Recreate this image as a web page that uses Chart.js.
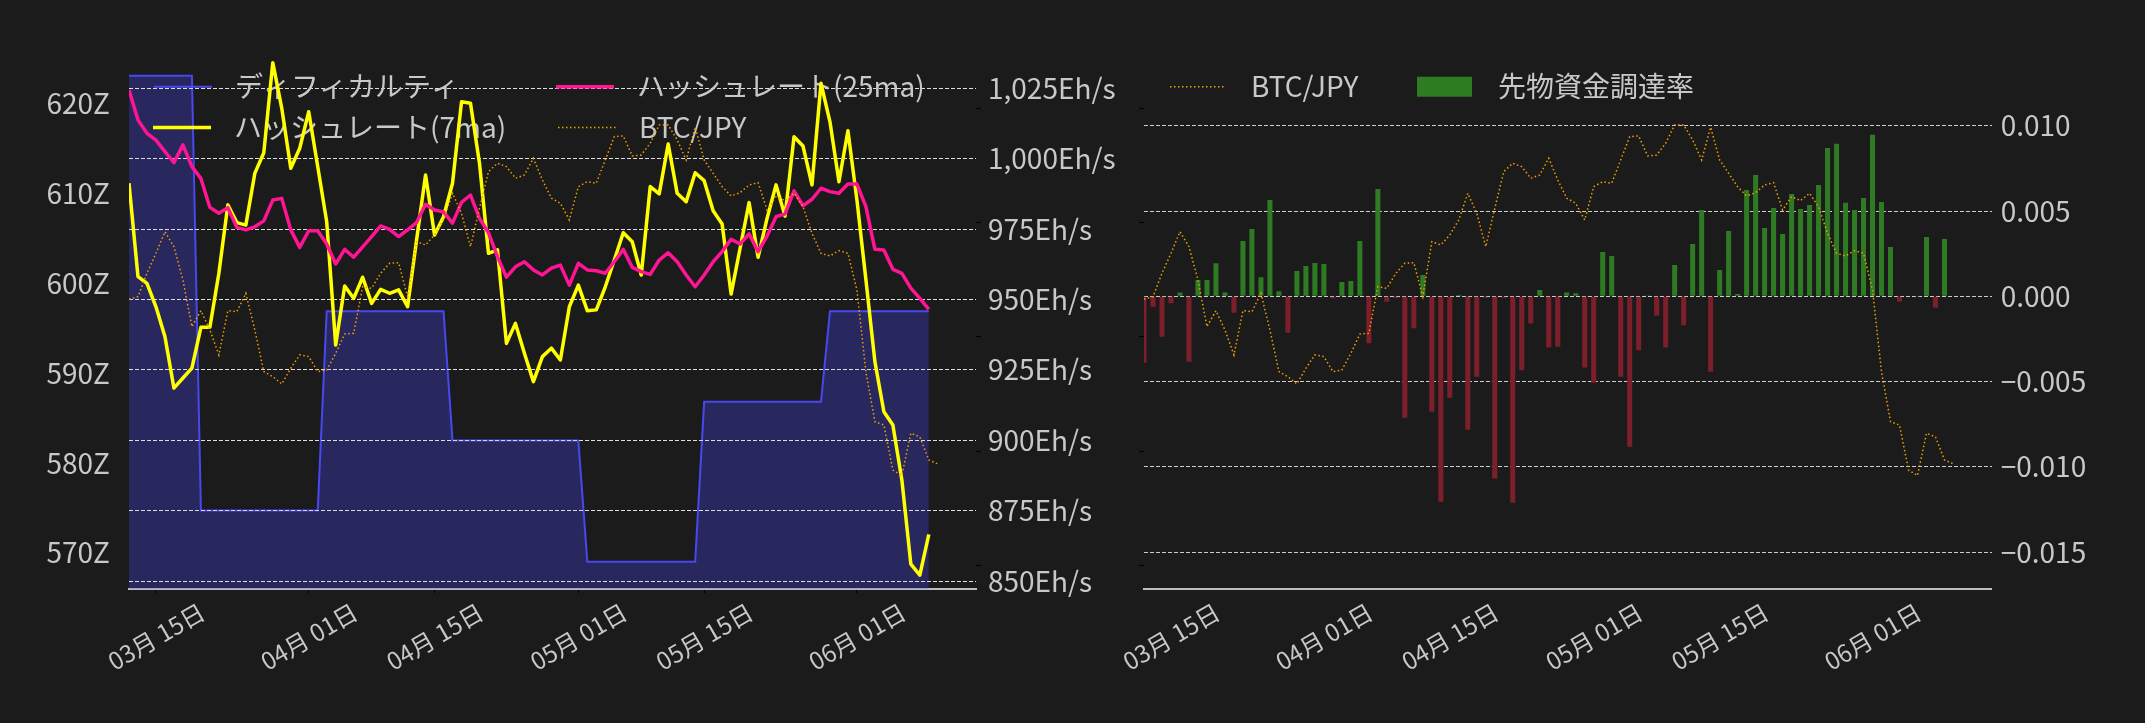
<!DOCTYPE html>
<html lang="ja">
<head>
<meta charset="utf-8">
<title>ハッシュレート / 先物資金調達率</title>
<script src="https://cdn.jsdelivr.net/npm/chart.js@4.4.1/dist/chart.umd.min.js"></script>
<style>
  html, body { margin: 0; padding: 0; background: #1b1b1b; }
  body { width: 2145px; height: 723px; position: relative; overflow: hidden; }
  canvas { position: absolute; top: 0; }
  #hashChart { left: 0; }
  #fundingChart { left: 1040px; }
</style>
</head>
<body>
<canvas id="hashChart" width="1130" height="723"></canvas>
<canvas id="fundingChart" width="1105" height="723"></canvas>
<script>
// 日付 (月-日)
const dates = [
  '03-12','03-13','03-14','03-15','03-16','03-17','03-18','03-19','03-20','03-21',
  '03-22','03-23','03-24','03-25','03-26','03-27','03-28','03-29','03-30','03-31',
  '04-01','04-02','04-03','04-04','04-05','04-06','04-07','04-08','04-09','04-10',
  '04-11','04-12','04-13','04-14','04-15','04-16','04-17','04-18','04-19','04-20',
  '04-21','04-22','04-23','04-24','04-25','04-26','04-27','04-28','04-29','04-30',
  '05-01','05-02','05-03','05-04','05-05','05-06','05-07','05-08','05-09','05-10',
  '05-11','05-12','05-13','05-14','05-15','05-16','05-17','05-18','05-19','05-20',
  '05-21','05-22','05-23','05-24','05-25','05-26','05-27','05-28','05-29','05-30',
  '05-31','06-01','06-02','06-03','06-04','06-05','06-06','06-07','06-08','06-09',
  '06-10'
];

// 目盛りを付ける日付
const tickDates = ['03-15', '04-01', '04-15', '05-01', '05-15', '06-01'];

// ディフィカルティ (Z)
const difficulty = [
  623.1, 623.1, 623.1, 623.1, 623.1, 623.1, 623.1, 623.1,
  574.7, 574.7, 574.7, 574.7, 574.7, 574.7, 574.7, 574.7, 574.7, 574.7, 574.7, 574.7, 574.7, 574.7,
  596.9, 596.9, 596.9, 596.9, 596.9, 596.9, 596.9, 596.9, 596.9, 596.9, 596.9, 596.9, 596.9, 596.9,
  582.5, 582.5, 582.5, 582.5, 582.5, 582.5, 582.5, 582.5, 582.5, 582.5, 582.5, 582.5, 582.5, 582.5, 582.5,
  569.0, 569.0, 569.0, 569.0, 569.0, 569.0, 569.0, 569.0, 569.0, 569.0, 569.0, 569.0, 569.0,
  586.8, 586.8, 586.8, 586.8, 586.8, 586.8, 586.8, 586.8, 586.8, 586.8, 586.8, 586.8, 586.8, 586.8,
  596.9, 596.9, 596.9, 596.9, 596.9, 596.9, 596.9, 596.9, 596.9, 596.9, 596.9, 596.9
];

// ハッシュレート 7日移動平均 (Eh/s)
const hashrate7 = [
  991.3, 958.1, 955.7, 947.4, 936.8, 918.5, 922.1, 925.6, 940.1, 940.1,
  959.3, 983.6, 977.3, 976.4, 994.8, 1002.1, 1034.1, 1017.9, 996.6, 1003.7,
  1016.7, 997.2, 977.6, 933.8, 954.8, 950.4, 957.9, 948.6, 953.6, 952.2,
  953.4, 947.4, 971.1, 994.2, 972.9, 979.4, 991.3, 1020.2, 1019.7, 998.4,
  966.4, 967.6, 934.4, 941.5, 930.9, 920.8, 929.7, 932.7, 928.5, 947.4,
  955.1, 946.0, 946.3, 954.5, 964.0, 973.7, 970.5, 958.7, 990.1, 987.5,
  1005.2, 987.7, 984.7, 995.0, 992.2, 981.5, 976.8, 951.9, 968.2, 984.4,
  965.0, 978.8, 990.7, 979.6, 1007.8, 1004.5, 990.7, 1026.8, 1013.1, 991.8,
  1009.9, 985.3, 957.0, 927.9, 910.1, 905.4, 885.9, 856.0, 852.1, 866.6
];

// ハッシュレート 25日移動平均 (Eh/s)
const hashrate25 = [
  1024.4, 1013.7, 1009.0, 1006.6, 1002.5, 998.6, 1004.9, 997.2, 993.0, 982.7,
  980.6, 982.6, 975.6, 974.7, 975.8, 977.9, 985.3, 985.9, 974.7, 968.5,
  974.4, 974.4, 969.7, 962.6, 967.8, 965.0, 968.7, 972.3, 976.1, 974.9,
  972.3, 974.7, 977.3, 983.8, 981.8, 981.1, 977.1, 984.5, 987.1, 978.8,
  973.7, 965.2, 957.9, 961.6, 963.4, 960.5, 958.7, 961.1, 962.2, 955.1,
  962.8, 960.5, 960.2, 959.3, 963.4, 967.8, 961.4, 959.9, 958.9, 964.0,
  966.6, 963.4, 958.7, 954.5, 958.7, 963.4, 967.0, 971.4, 969.7, 973.3,
  967.0, 972.5, 979.4, 980.4, 988.6, 983.3, 985.6, 989.5, 988.3, 987.7,
  991.0, 991.0, 983.0, 967.8, 967.6, 960.7, 959.3, 954.0, 950.4, 946.5
];

// BTC/JPY (万円)
const btcJpy = [
  1432.9, 1435.2, 1455.6, 1473.1, 1492.0, 1478.9, 1449.8, 1408.9, 1422.9, 1406.0,
  1384.2, 1422.9, 1422.0, 1438.1, 1406.0, 1369.6, 1365.2, 1358.8, 1372.5, 1384.2,
  1382.7, 1369.6, 1371.0, 1385.6, 1402.5, 1403.1, 1443.9, 1442.5, 1455.6, 1464.4,
  1464.9, 1435.2, 1483.3, 1480.4, 1489.2, 1502.3, 1525.6, 1508.1, 1478.9, 1512.5,
  1544.5, 1551.9, 1548.9, 1538.8, 1541.6, 1556.3, 1537.3, 1521.3, 1516.9, 1502.3,
  1531.4, 1535.8, 1534.4, 1554.8, 1575.2, 1575.8, 1558.3, 1559.1, 1569.4, 1585.4,
  1585.4, 1572.3, 1554.8, 1583.4, 1554.8, 1543.1, 1531.4, 1523.3, 1526.2, 1532.9,
  1534.9, 1511.0, 1522.7, 1519.2, 1525.6, 1513.9, 1490.6, 1473.1, 1470.8, 1475.4,
  1473.1, 1441.0, 1369.3, 1325.8, 1322.9, 1283.5, 1278.7, 1315.7, 1312.4, 1292.3,
  1288.8
];

// 先物資金調達率
const fundingRate = [
  -0.00390, -0.00061, -0.00237, -0.00041, 0.00023, -0.00384, 0.00096, 0.00096, 0.00194, 0.00023,
  -0.00096, 0.00325, 0.00395, 0.00111, 0.00565, 0.00029, -0.00214, 0.00148, 0.00178, 0.00195,
  0.00190, -0.00012, 0.00084, 0.00090, 0.00325, -0.00276, 0.00630, -0.00032, -0.00010, -0.00712,
  -0.00188, 0.00125, -0.00677, -0.01205, -0.00595, 0.00008, -0.00783, -0.00472, -0.00008, -0.01068,
  -0.00008, -0.01211, -0.00433, -0.00159, 0.00037, -0.00300, -0.00296, 0.00023, 0.00018, -0.00417,
  -0.00507, 0.00260, 0.00237, -0.00472, -0.00883, -0.00317, 0.00002, -0.00114, -0.00300, 0.00184,
  -0.00170, 0.00307, 0.00506, -0.00442, 0.00154, 0.00383, 0.00014, 0.00624, 0.00712, 0.00401,
  0.00518, 0.00366, 0.00600, 0.00512, 0.00536, 0.00653, 0.00870, 0.00894, 0.00548, 0.00506,
  0.00577, 0.00947, 0.00553, 0.00289, -0.00031, 0, -0.00004, 0.00348, -0.00067, 0.00336
];

const FONT = "'Noto Sans CJK JP', 'Noto Sans', sans-serif";
const TEXT = '#c8c8c8';
const GRID = 'rgba(225,225,225,0.9)';
const GREEN = '#2e7b24';
const RED = '#7c1f2b';

Chart.defaults.font.family = FONT;
Chart.defaults.color = TEXT;

const toPoints = arr => arr.map((v, i) => ({ x: i, y: v }));
const tickIndex = tickDates.map(d => dates.indexOf(d));
const xMax = 94.25;

function dateLabel(v) {
  const [m, d] = dates[v].split('-');
  return `${m}月 ${d}日`;
}

function xAxis(tickColor) {
  return {
    type: 'linear',
    position: 'bottom',
    min: 0,
    max: xMax,
    offset: false,
    afterBuildTicks: s => { s.ticks = tickIndex.map(v => ({ value: v })); },
    afterFit: s => { s.height = 134; },
    grid: { offset: false, drawOnChartArea: false, drawTicks: true, tickLength: 4, color: tickColor },
    border: { display: true, color: '#bdbdbd', width: 2 },
    ticks: {
      autoSkip: false, minRotation: 30, maxRotation: 30,
      labelOffset: 46.5, padding: 4.5,
      font: { size: 24 },
      callback: v => dateLabel(v)
    }
  };
}

function btcAxis(position, width) {
  return {
    position, weight: 0,
    min: 1179.4, max: 1646.6,
    afterFit: s => { s.width = width; },
    grid: { drawOnChartArea: false, drawTicks: true, tickLength: 5, color: '#000' },
    border: { display: false },
    ticks: { display: false, stepSize: 100, includeBounds: false }
  };
}

// 凡例 (プロット内・枠なし) と、塗りつぶしの上に目盛線を描き直す
function drawLegend(chart, opts) {
  const { ctx, chartArea } = chart;
  ctx.save();
  ctx.font = `28px ${FONT}`;
  ctx.textBaseline = 'middle';
  for (const item of opts.items) {
    const ds = chart.data.datasets[item.index];
    const x0 = chartArea.left + item.x;
    if (ds.type === 'bar') {
      ctx.fillStyle = GREEN;
      ctx.fillRect(x0, item.y - 10, opts.handle, 20);
    } else {
      ctx.strokeStyle = ds.borderColor;
      ctx.lineWidth = ds.borderWidth;
      ctx.setLineDash(ds.borderDash || []);
      ctx.beginPath();
      ctx.moveTo(x0, item.y);
      ctx.lineTo(x0 + opts.handle, item.y);
      ctx.stroke();
      ctx.setLineDash([]);
    }
    ctx.fillStyle = TEXT;
    ctx.fillText(ds.label, x0 + opts.handle + opts.gap, item.y);
  }
  ctx.restore();
}

const overlay = {
  id: 'overlay',
  afterDatasetDraw(chart, args, opts) {
    if (args.index !== opts.after) return;
    if (opts.grid) chart.scales[opts.grid].drawGrid(chart.chartArea);
    drawLegend(chart, opts);
  }
};

// 左：ディフィカルティとハッシュレート
new Chart(document.getElementById('hashChart'), {
  type: 'line',
  data: {
    datasets: [
      {
        type: 'line', label: 'ディフィカルティ', data: toPoints(difficulty), yAxisID: 'yDiff',
        borderColor: '#4848f0', borderWidth: 2, backgroundColor: 'rgba(72,72,255,0.3)',
        fill: 'start', pointRadius: 0, tension: 0, order: 4
      },
      {
        type: 'line', label: 'ハッシュレート(7ma)', data: toPoints(hashrate7), yAxisID: 'yHash',
        borderColor: '#ffff00', borderWidth: 3.5, pointRadius: 0, tension: 0,
        borderJoinStyle: 'round', order: 3
      },
      {
        type: 'line', label: 'ハッシュレート(25ma)', data: toPoints(hashrate25), yAxisID: 'yHash',
        borderColor: '#ff1493', borderWidth: 3.5, pointRadius: 0, tension: 0,
        borderJoinStyle: 'round', order: 2
      },
      {
        type: 'line', label: 'BTC/JPY', data: toPoints(btcJpy), yAxisID: 'yBtc',
        borderColor: '#f0a000', borderWidth: 1.5, borderDash: [1.5, 2.5], pointRadius: 0,
        tension: 0, order: 1
      }
    ]
  },
  options: {
    responsive: false,
    animation: false,
    devicePixelRatio: 1,
    layout: { padding: { top: 55, left: 0, right: 0, bottom: 0 } },
    plugins: {
      legend: { display: false },
      tooltip: { enabled: false },
      overlay: {
        after: 0, grid: 'yHash', handle: 58, gap: 23,
        items: [
          { index: 0, x: 25, y: 86.8 },
          { index: 1, x: 24, y: 127.6 },
          { index: 2, x: 427, y: 86.8 },
          { index: 3, x: 429, y: 127.4 }
        ]
      }
    },
    scales: {
      x: xAxis('#000'),
      yDiff: {
        position: 'left',
        min: 565.96, max: 625.42,
        afterFit: s => { s.width = 129; },
        grid: { display: false },
        border: { display: false },
        ticks: { stepSize: 10, includeBounds: false, padding: 11, font: { size: 28 }, callback: v => `${v}Z` }
      },
      yBtc: btcAxis('right', 5),
      yHash: {
        position: 'right', weight: 1,
        min: 847.16, max: 1036.83,
        afterFit: s => { s.width = 149; },
        grid: { color: GRID, lineWidth: 1, drawTicks: false },
        border: { display: false, dash: [4, 2] },
        ticks: {
          stepSize: 25, includeBounds: false, padding: 7, font: { size: 28 },
          callback: v => `${v.toLocaleString('en-US')}Eh/s`
        }
      }
    }
  },
  plugins: [overlay]
});

// 右：先物資金調達率
new Chart(document.getElementById('fundingChart'), {
  type: 'bar',
  data: {
    datasets: [
      {
        type: 'line', label: 'BTC/JPY', data: toPoints(btcJpy), yAxisID: 'yBtc',
        borderColor: '#f0a000', borderWidth: 1.5, borderDash: [1.5, 2.5], pointRadius: 0,
        tension: 0, order: 0
      },
      {
        type: 'bar', label: '先物資金調達率', data: toPoints(fundingRate), yAxisID: 'yFund',
        backgroundColor: c => (c.parsed && c.parsed.y < 0 ? RED : GREEN),
        borderWidth: 0, barPercentage: 0.7, categoryPercentage: 0.8, order: 1
      }
    ]
  },
  options: {
    responsive: false,
    animation: false,
    devicePixelRatio: 1,
    layout: { padding: { top: 55, left: 0, right: 0, bottom: 0 } },
    plugins: {
      legend: { display: false },
      tooltip: { enabled: false },
      overlay: {
        after: 0, handle: 55, gap: 26,
        items: [
          { index: 0, x: 26, y: 86.7 },
          { index: 1, x: 273, y: 86.7 }
        ]
      }
    },
    scales: {
      x: xAxis('rgba(0,0,0,0)'),
      yBtc: btcAxis('left', 104),
      yFund: {
        position: 'right',
        min: -0.017165, max: 0.014151,
        afterFit: s => { s.width = 153.3; },
        grid: { color: GRID, lineWidth: 1, drawTicks: false },
        border: { display: false, dash: [4, 2] },
        ticks: {
          stepSize: 0.005, includeBounds: false, padding: 9, font: { size: 28 },
          callback: v => v.toFixed(3).replace('-', '\u2212')
        }
      }
    }
  },
  plugins: [overlay]
});
</script>
</body>
</html>
